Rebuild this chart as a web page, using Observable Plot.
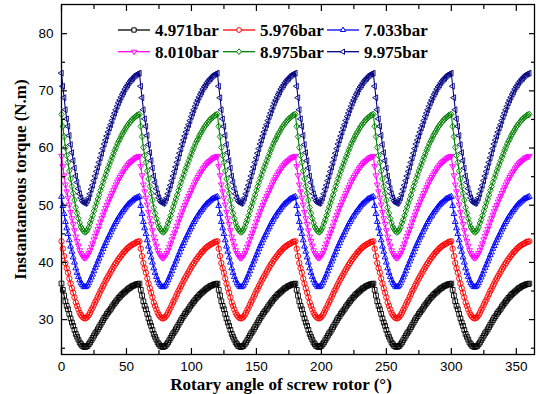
<!DOCTYPE html>
<html><head><meta charset="utf-8">
<script src="https://cdn.jsdelivr.net/npm/d3@7"></script>
<script src="https://cdn.jsdelivr.net/npm/@observablehq/plot@0.6"></script>
<style>
html,body{margin:0;padding:0;background:#fff;}
#chart{width:536px;height:394px;}
</style></head><body><div id="chart"></div>
<script>
const seriesNames = ["4.971bar","5.976bar","7.033bar","8.010bar","8.975bar","9.975bar"];
const seriesColors = ["#000000","#ff0000","#0000ff","#ff00ff","#008000","#000080"];
// One 60° period of instantaneous torque (N.m), read at 1° steps; offset 0 = peak (0°, 60°, 120° ...)
const torque4971 = [36.3,35.2,34.2,33.2,32.4,31.8,31.0,30.2,29.5,28.9,28.2,27.5,27.0,26.5,26.0,25.7,25.4,25.3,25.2,25.3,25.4,25.7,26.0,26.4,26.8,27.2,27.6,27.9,28.3,28.7,29.1,29.5,29.9,30.3,30.6,31.0,31.3,31.6,31.9,32.3,32.6,32.9,33.2,33.5,33.8,34.0,34.3,34.5,34.7,34.9,35.1,35.3,35.5,35.6,35.8,35.9,36.0,36.1,36.2,36.2];
const torque5976 = [43.7,42.4,41.1,39.9,39.0,38.2,37.2,36.3,35.5,34.7,33.9,33.0,32.4,31.8,31.2,30.8,30.5,30.3,30.2,30.3,30.5,30.8,31.2,31.7,32.1,32.6,33.1,33.5,34.0,34.5,35.0,35.4,35.9,36.3,36.8,37.2,37.6,38.0,38.4,38.8,39.2,39.6,39.9,40.3,40.6,40.9,41.2,41.5,41.8,42.0,42.3,42.5,42.7,42.9,43.0,43.2,43.3,43.4,43.6,43.6];
const torque7033 = [51.5,49.9,48.5,47.1,46.0,45.0,43.9,42.8,41.9,40.9,40.0,39.0,38.2,37.5,36.9,36.4,36.1,35.8,35.7,35.8,36.0,36.4,36.9,37.4,37.9,38.5,39.1,39.6,40.2,40.7,41.3,41.8,42.4,42.9,43.4,43.9,44.4,44.8,45.3,45.8,46.2,46.7,47.1,47.5,47.9,48.2,48.6,48.9,49.2,49.5,49.8,50.1,50.3,50.5,50.7,50.9,51.1,51.2,51.3,51.4];
const torque8010 = [58.6,56.8,55.2,53.6,52.4,51.3,50.1,48.8,47.7,46.7,45.6,44.5,43.7,42.9,42.1,41.6,41.2,40.9,40.8,40.9,41.2,41.6,42.1,42.7,43.3,44.0,44.6,45.2,45.8,46.4,47.1,47.7,48.3,48.9,49.5,50.0,50.6,51.1,51.6,52.1,52.6,53.1,53.6,54.1,54.5,54.9,55.3,55.7,56.0,56.4,56.7,57.0,57.3,57.5,57.7,57.9,58.1,58.3,58.4,58.5];
const torque8975 = [65.9,63.8,62.0,60.1,58.7,57.5,56.0,54.6,53.3,52.1,50.9,49.6,48.6,47.7,46.9,46.2,45.8,45.5,45.3,45.4,45.7,46.2,46.9,47.5,48.2,49.0,49.7,50.4,51.1,51.8,52.6,53.3,54.0,54.7,55.3,56.0,56.6,57.2,57.8,58.4,59.0,59.6,60.1,60.7,61.2,61.6,62.1,62.5,62.9,63.3,63.7,64.0,64.3,64.6,64.9,65.1,65.3,65.5,65.7,65.8];
const torque9975 = [73.1,70.8,68.8,66.7,65.1,63.8,62.2,60.6,59.2,57.8,56.5,55.1,54.0,52.9,52.0,51.3,50.8,50.5,50.3,50.4,50.8,51.3,52.0,52.8,53.5,54.3,55.1,55.9,56.7,57.5,58.3,59.1,59.9,60.7,61.4,62.1,62.8,63.5,64.1,64.8,65.5,66.1,66.7,67.3,67.9,68.4,68.9,69.4,69.8,70.3,70.7,71.0,71.4,71.7,72.0,72.2,72.5,72.7,72.9,73.0];
const periods = [torque4971, torque5976, torque7033, torque8010, torque8975, torque9975];
const xTicks = [0,50,100,150,200,250,300,350];
const xMinorTicks = [25,75,125,175,225,275,325];
const yTicks = [30,40,50,60,70,80];
const yMinorTicks = [25,35,45,55,65,75];
const angles = d3.range(0, 361, 1); // rotor angle sampled every 1°

// open marker shapes
function tri(rot){ return {draw(ctx,size){ const R=Math.sqrt(size/Math.PI)*1.25; for(let i=0;i<3;i++){ const t=(rot+i*120)*Math.PI/180; const px=R*Math.cos(t), py=R*Math.sin(t); if(i) ctx.lineTo(px,py); else ctx.moveTo(px,py);} ctx.closePath(); }}; }
const diamondSym = {draw(ctx,size){ const R=Math.sqrt(size/Math.PI)*1.2; ctx.moveTo(0,-R); ctx.lineTo(R*0.85,0); ctx.lineTo(0,R); ctx.lineTo(-R*0.85,0); ctx.closePath(); }};
const symbols = [d3.symbolSquare, d3.symbolCircle, tri(-90), tri(90), diamondSym, tri(180)];

const series = periods.map((p,i)=>({
  name: seriesNames[i],
  data: angles.map(a=>({angle:a, torque:p[a % 60]}))
}));

const marks = [];
series.forEach((s,i)=>{
  marks.push(Plot.line(s.data,{x:"angle",y:"torque",stroke:seriesColors[i],strokeWidth:1.1}));
  marks.push(Plot.dot(s.data,{x:"angle",y:"torque",stroke:seriesColors[i],fill:"none",symbol:symbols[i],r:2.7,strokeWidth:0.9}));
});

const serif = "'Liberation Serif', 'Times New Roman', serif";
const chart = Plot.plot({
  width:536, height:394,
  marginLeft:61, marginRight:2, marginTop:4, marginBottom:40,
  x:{domain:[0,364]},
  y:{domain:[23.9,85.1]},
  style:{fontFamily:"'Liberation Sans', Arial, sans-serif", fontSize:"13.5px", color:"black", background:"white", overflow:"visible"},
  marks:[
    ...marks,
    Plot.frame({stroke:"black", strokeWidth:1.3}),
    Plot.axisX({ticks:xTicks, tickSize:0, tickPadding:7, label:null, fontSize:13.5}),
    Plot.axisY({ticks:yTicks, tickSize:0, tickPadding:8, label:null, fontSize:13.5}),
    Plot.axisX({ticks:xTicks, tickSize:-6, fill:null, label:null, strokeWidth:1.2}),
    Plot.axisX({ticks:xMinorTicks, tickSize:-4, fill:null, label:null, strokeWidth:1.2}),
    Plot.axisX({anchor:"top", ticks:xTicks, tickSize:-6, fill:null, label:null, strokeWidth:1.2}),
    Plot.axisX({anchor:"top", ticks:xMinorTicks, tickSize:-4, fill:null, label:null, strokeWidth:1.2}),
    Plot.axisY({ticks:yTicks, tickSize:-6, fill:null, label:null, strokeWidth:1.2}),
    Plot.axisY({ticks:yMinorTicks, tickSize:-4, fill:null, label:null, strokeWidth:1.2}),
    Plot.axisY({anchor:"right", ticks:yTicks, tickSize:-6, fill:null, label:null, strokeWidth:1.2}),
    Plot.axisY({anchor:"right", ticks:yMinorTicks, tickSize:-4, fill:null, label:null, strokeWidth:1.2}),
    Plot.text(["Rotary angle of screw rotor (°)"], {text:d=>d, frameAnchor:"bottom", textAnchor:"middle", lineAnchor:"bottom", dy:35, dx:-17, fontFamily:serif, fontWeight:"bold", fontSize:17, fill:"black"}),
    Plot.text(["Instantaneous torque (N.m)"], {text:d=>d, frameAnchor:"left", textAnchor:"middle", rotate:-90, dx:-40.5, fontFamily:serif, fontWeight:"bold", fontSize:17, fill:"black"})
  ]
});
document.getElementById("chart").appendChild(chart);

// legend inside the plot frame
const legendCols = [118, 223, 327];
const legendRows = [30, 51.7];
const svg = d3.select(chart);
const lg = svg.append("g").attr("text-anchor","start");
seriesNames.forEach((name,i)=>{
  const x0 = legendCols[i%3], y0 = legendRows[Math.floor(i/3)];
  const g = lg.append("g");
  g.append("line").attr("x1",x0).attr("x2",x0+32).attr("y1",y0).attr("y2",y0).attr("stroke",seriesColors[i]).attr("stroke-width",1.3);
  g.append("path").attr("d", d3.symbol().type(symbols[i]).size(Math.PI*2.4*2.4)()).attr("transform",`translate(${x0+16},${y0})`).attr("fill","white").attr("stroke",seriesColors[i]).attr("stroke-width",1);
  g.append("text").attr("x",x0+37).attr("y",y0+6.3).attr("text-anchor","start").text(name).attr("font-family",serif).attr("font-weight","bold").attr("font-size",17).attr("fill","black");
});
</script></body></html>
